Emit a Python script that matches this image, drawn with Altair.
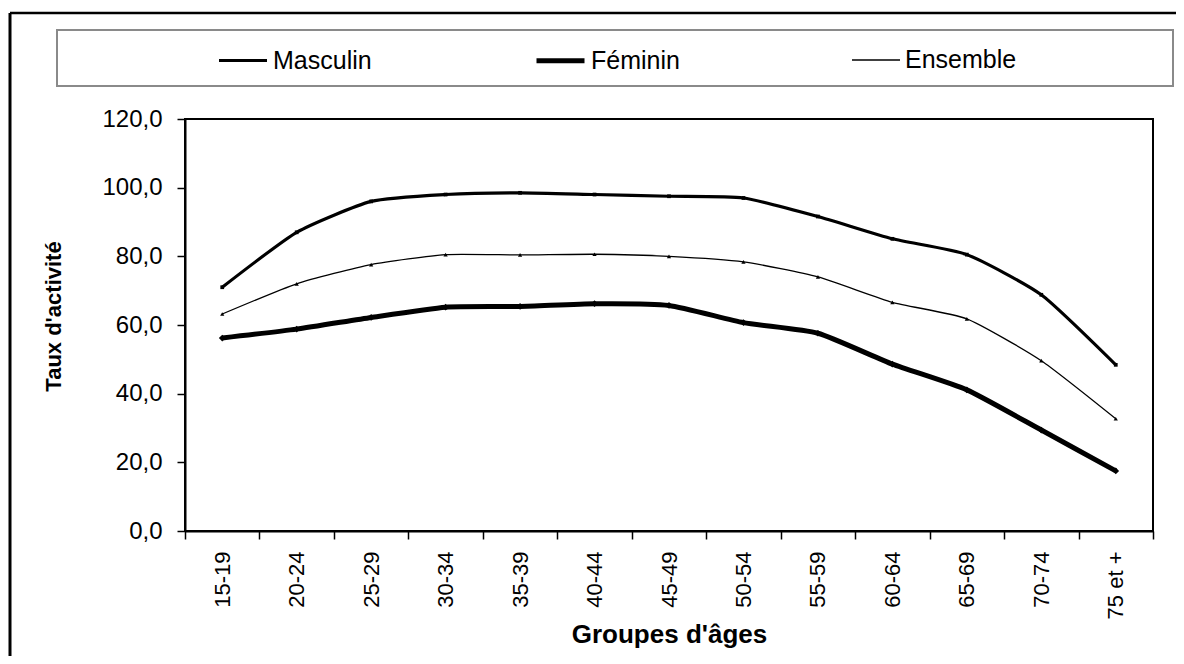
import altair as alt
import pandas as pd

# ---- data ----
groupes = ["15-19", "20-24", "25-29", "30-34", "35-39", "40-44", "45-49",
           "50-54", "55-59", "60-64", "65-69", "70-74", "75 et +"]
series = ["Masculin", "Féminin", "Ensemble"]
masculin = [71.0, 87.0, 96.0, 98.0, 98.5, 98.0, 97.5, 97.0, 91.6, 85.1, 80.5, 68.8, 48.4]
feminin = [56.2, 58.8, 62.2, 65.2, 65.4, 66.2, 65.7, 60.7, 57.6, 48.6, 41.1, 29.4, 17.5]
ensemble = [63.2, 72.0, 77.6, 80.5, 80.4, 80.6, 80.0, 78.4, 74.0, 66.6, 61.8, 49.6, 32.7]
y_ticks = [0, 20, 40, 60, 80, 100, 120]

rows = []
for s, vals in zip(series, [masculin, feminin, ensemble]):
    for g, v in zip(groupes, vals):
        rows.append({"Groupe": g, "Serie": s, "Taux": v})
df = pd.DataFrame(rows)
one = pd.DataFrame({"k": [0]})

FONT = "Liberation Sans"
shapes = {"Masculin": "square", "Féminin": "diamond", "Ensemble": "triangle-up"}
sizes = {"Masculin": 14, "Féminin": 45, "Ensemble": 18}

legend = alt.Legend(
    orient="none", legendX=32, legendY=-85, direction="horizontal", title=None,
    values=series,
    labelFontSize=25, labelFont=FONT, labelColor="black", symbolType="stroke",
    symbolSize=2304, labelOffset=4, columnPadding=143, gridAlign="all",
    padding=0, labelLimit=300, symbolStrokeColor="black",
)

x_enc = alt.X(
    "Groupe:N", sort=groupes, bandPosition=0.5,
    scale=alt.Scale(type="band", domain=groupes, paddingInner=0, paddingOuter=0),
    axis=alt.Axis(
        title="Groupes d'âges", labelAngle=270, tickBand="extent", tickSize=8,
        tickWidth=1.5, tickColor="black", labelPadding=12, labelFontSize=22,
        labelFont=FONT, labelColor="black", titleFontSize=26, titleFont=FONT,
        titleFontWeight="bold", titleColor="black", titlePadding=3,
        domainColor="black", domainWidth=2,
    ),
)
y_enc = alt.Y(
    "Taux:Q",
    scale=alt.Scale(domain=[0, 120], nice=False),
    axis=alt.Axis(
        values=y_ticks, labelExpr="replace(format(datum.value, '.1f'), '.', ',')",
        grid=False, tickSize=8, tickWidth=1.5, tickColor="black", labelPadding=15,
        labelFontSize=24, labelFont=FONT, labelColor="black",
        title="Taux d'activité", titleFontSize=22, titleFont=FONT,
        titleFontWeight="bold", titleColor="black", titlePadding=36, titleY=197,
        domainColor="black", domainWidth=2,
    ),
)

frame_top = alt.Chart(one).mark_rule(color="black", strokeWidth=2.5).encode(
    x=alt.value(-175), x2=alt.value(1100), y=alt.value(-106)
)
frame_left = alt.Chart(one).mark_rule(color="black", strokeWidth=3).encode(
    x=alt.value(-175), y=alt.value(-106), y2=alt.value(700)
)
legend_box = alt.Chart(one).mark_rect(fill="white", stroke="#8a8a8a", strokeWidth=2).encode(
    x=alt.value(-128), x2=alt.value(988), y=alt.value(-89), y2=alt.value(-33)
)

lines = alt.Chart(df).mark_line(interpolate="cardinal", tension=0.45, color="black").encode(
    x=x_enc,
    y=y_enc,
    strokeWidth=alt.StrokeWidth("Serie:N",
                                scale=alt.Scale(type="point", domain=["Ensemble", "Masculin", "Féminin"],
                                                range=[1.3, 5.0]),
                                legend=legend),
    detail="Serie:N",
)

layers = [frame_top, frame_left, legend_box, lines]
for s in series:
    layers.append(
        alt.Chart(df).transform_filter(alt.datum.Serie == s)
        .mark_point(filled=True, opacity=1, color="black", shape=shapes[s], size=sizes[s])
        .encode(x=alt.X("Groupe:N", sort=groupes, bandPosition=0.5), y="Taux:Q")
    )

chart = alt.layer(*layers).properties(
    width=968, height=412,
    autosize=alt.AutoSizeParams(type="none"),
    padding={"left": 177, "top": 111, "right": 23, "bottom": 125},
    background="white",
).configure_view(stroke="black", strokeWidth=2)

chart.save("out.html", embed_options={"renderer": "svg", "actions": False})
